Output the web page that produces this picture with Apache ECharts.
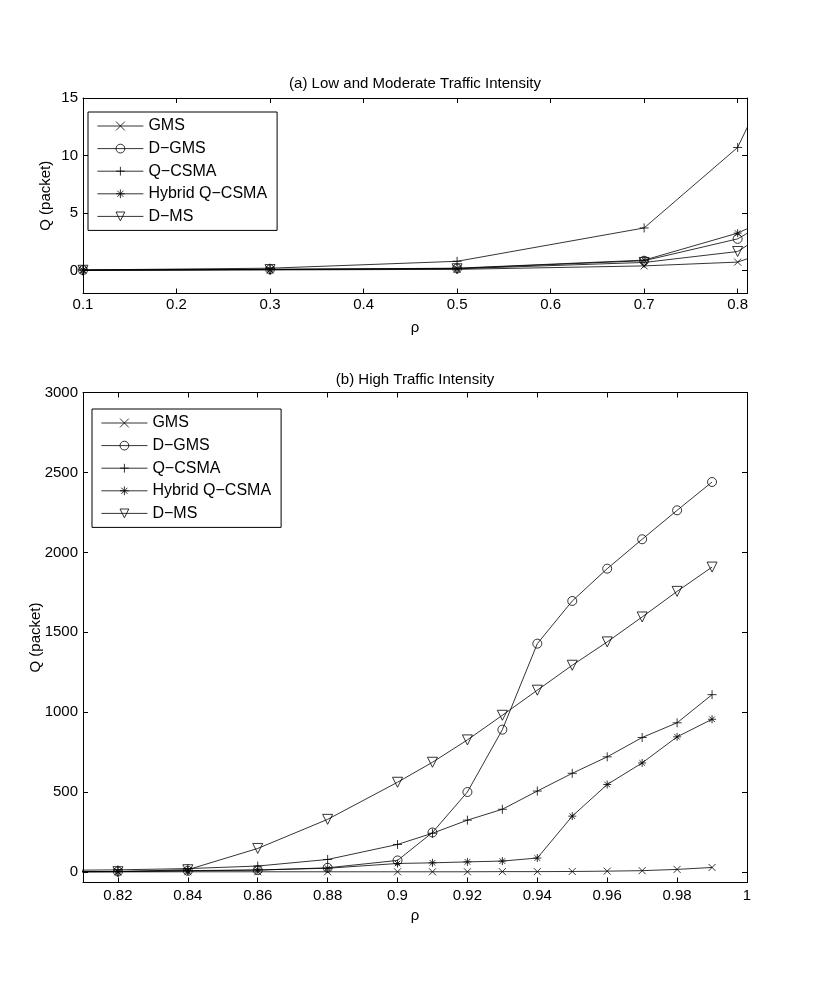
<!DOCTYPE html>
<html><head><meta charset="utf-8">
<script src="https://cdn.jsdelivr.net/npm/echarts@6/dist/echarts.min.js"></script>
<style>html,body{margin:0;padding:0;background:#fff}#c{width:830px;height:982px}</style>
</head><body><div id="c"></div>
<script>
// ---- data ----
const seriesNames = ['GMS', 'D\u2212GMS', 'Q\u2212CSMA', 'Hybrid Q\u2212CSMA', 'D\u2212MS'];

// (a) low and moderate traffic intensity
const xLow = [0.1, 0.3, 0.5, 0.7, 0.8, 0.82];
const lowGMS    = [0.02, 0.05, 0.10, 0.40, 0.73, 1.3];
const lowDGMS   = [0.03, 0.10, 0.18, 0.85, 2.75, 3.7];
const lowQCSMA  = [0.05, 0.20, 0.80, 3.70, 10.7, 14.1];
const lowHybrid = [0.03, 0.10, 0.20, 0.90, 3.25, 4.0];
const lowDMS    = [0.02, 0.08, 0.15, 0.70, 1.65, 2.7];

// (b) high traffic intensity
const xHigh = [0.8, 0.82, 0.84, 0.86, 0.88, 0.9, 0.91, 0.92, 0.93, 0.94, 0.95, 0.96, 0.97, 0.98, 0.99];
const highGMS    = [0.73, 1.3, 2, 2, 2, 2, 2, 2, 3, 3, 4, 6, 9, 17, 29];
const highDGMS   = [2.75, 3.7, 8, 12, 27, 73, 248, 501, 891, 1429, 1696, 1898, 2082, 2263, 2440];
const highQCSMA  = [10.7, 14.1, 22, 38, 79, 173, 243, 325, 393, 507, 618, 721, 842, 934, 1110];
const highHybrid = [3.25, 4.0, 9, 14, 24, 54, 58, 64, 69, 88, 350, 548, 683, 846, 956];
const highDMS    = [1.65, 2.7, 15, 148, 330, 562, 687, 827, 981, 1138, 1294, 1440, 1596, 1756, 1908];

// ticks
const xTicksLow = [0.1, 0.2, 0.3, 0.4, 0.5, 0.6, 0.7, 0.8];
const yTicksLow = [0, 5, 10, 15];
const xTicksHigh = [0.82, 0.84, 0.86, 0.88, 0.9, 0.92, 0.94, 0.96, 0.98, 1];
const yTicksHigh = [0, 500, 1000, 1500, 2000, 2500, 3000];

// ---- style ----
const FONT = "'Liberation Sans', Arial, Helvetica, sans-serif";
const symbols = [
  'path://M0,0L10,10M10,0L0,10',
  'circle',
  'path://M5,0L5,10M0,5L10,5',
  'path://M5,0L5,10M0,5L10,5M1.5,1.5L8.5,8.5M8.5,1.5L1.5,8.5',
  'path://M0,0L10,0L5,8.66Z'
];
const symSizes = [7, 9, 9, 8, 10];
const fmt = v => String(parseFloat((+v).toFixed(2)));

function xAx(grid, min, max, ticks, pos, showLabels, margin, nameGap) {
  return {
    type: 'value', gridIndex: grid, min: min, max: max, position: pos,
    name: showLabels ? '\u03c1' : '', nameLocation: 'middle', nameGap: nameGap,
    nameMoveOverlap: false,
    nameTextStyle: {color: '#000', fontSize: 15, fontFamily: FONT},
    axisLine: {show: true, onZero: false, lineStyle: {color: '#000', width: 1}},
    axisTick: {show: true, inside: true, length: 5, customValues: ticks, lineStyle: {color: '#000', width: 1}},
    axisLabel: {show: showLabels, customValues: ticks, formatter: fmt, margin: margin, color: '#000', fontSize: 15, fontFamily: FONT},
    splitLine: {show: false}
  };
}
function yAx(grid, min, max, ticks, pos, showLabels, nameGap) {
  return {
    type: 'value', gridIndex: grid, min: min, max: max, position: pos,
    name: showLabels ? 'Q (packet)' : '', nameLocation: 'middle', nameGap: nameGap,
    nameMoveOverlap: false,
    nameTextStyle: {color: '#000', fontSize: 15, fontFamily: FONT},
    axisLine: {show: true, onZero: false, lineStyle: {color: '#000', width: 1}},
    axisTick: {show: true, inside: true, length: 5, customValues: ticks, lineStyle: {color: '#000', width: 1}},
    axisLabel: {show: showLabels, customValues: ticks, formatter: fmt, margin: 5, color: '#000', fontSize: 15, fontFamily: FONT},
    splitLine: {show: false}
  };
}

function mkSeries(xs, ys, idx, xi, yi) {
  return {
    name: seriesNames[idx], type: 'line', xAxisIndex: xi, yAxisIndex: yi,
    data: xs.map((x, i) => [x, ys[i]]),
    symbol: symbols[idx], symbolSize: symSizes[idx], showAllSymbol: true,
    clip: true,
    lineStyle: {color: '#000', width: 0.8},
    itemStyle: {color: 'none', borderColor: '#000', borderWidth: 0.8},
    emphasis: {disabled: true},
    z: 2
  };
}

const lowSets = [lowGMS, lowDGMS, lowQCSMA, lowHybrid, lowDMS];
const highSets = [highGMS, highDGMS, highQCSMA, highHybrid, highDMS];

function legendAt(left, top) {
  return {
    data: seriesNames, orient: 'vertical', left: left, top: top,
    itemWidth: 46, itemHeight: 11, itemGap: 6.6,
    padding: [6, 10, 6, 9],
    borderColor: '#000', borderWidth: 1, backgroundColor: '#fff',
    textStyle: {color: '#000', fontSize: 16, lineHeight: 16, fontFamily: FONT},
    lineStyle: {color: '#000', width: 0.8},
    itemStyle: {color: 'none', borderColor: '#000', borderWidth: 0.8},
    selectedMode: false
  };
}

const option = {
  animation: false,
  color: ['#000'],
  title: [
    {text: '(a) Low and Moderate Traffic Intensity', left: 'center', top: 71,
     textStyle: {color: '#000', fontSize: 15, fontWeight: 'normal', fontFamily: FONT}},
    {text: '(b) High Traffic Intensity', left: 'center', top: 367,
     textStyle: {color: '#000', fontSize: 15, fontWeight: 'normal', fontFamily: FONT}}
  ],
  grid: [
    {left: 83, width: 664, top: 98, height: 195.5},
    {left: 83, width: 664, top: 392.5, height: 490}
  ],
  legend: [legendAt(88, 112), legendAt(92, 409)],
  xAxis: [
    xAx(0, 0.1, 0.81, xTicksLow, 'bottom', true, 4, 27),
    xAx(0, 0.1, 0.81, xTicksLow, 'top', false, 4, 27),
    xAx(1, 0.81, 1, xTicksHigh, 'bottom', true, 6, 26),
    xAx(1, 0.81, 1, xTicksHigh, 'top', false, 6, 26)
  ],
  yAxis: [
    yAx(0, -2, 15, yTicksLow, 'left', true, 30),
    yAx(0, -2, 15, yTicksLow, 'right', false, 30),
    yAx(1, -65, 3000, yTicksHigh, 'left', true, 40),
    yAx(1, -65, 3000, yTicksHigh, 'right', false, 40)
  ],
  series: [
    ...lowSets.map((ys, i) => mkSeries(xLow, ys, i, 0, 0)),
    ...highSets.map((ys, i) => mkSeries(xHigh, ys, i, 2, 2))
  ]
};

const chart = echarts.init(document.getElementById('c'), null, {renderer: 'canvas'});
chart.setOption(option);
</script>
</body></html>
